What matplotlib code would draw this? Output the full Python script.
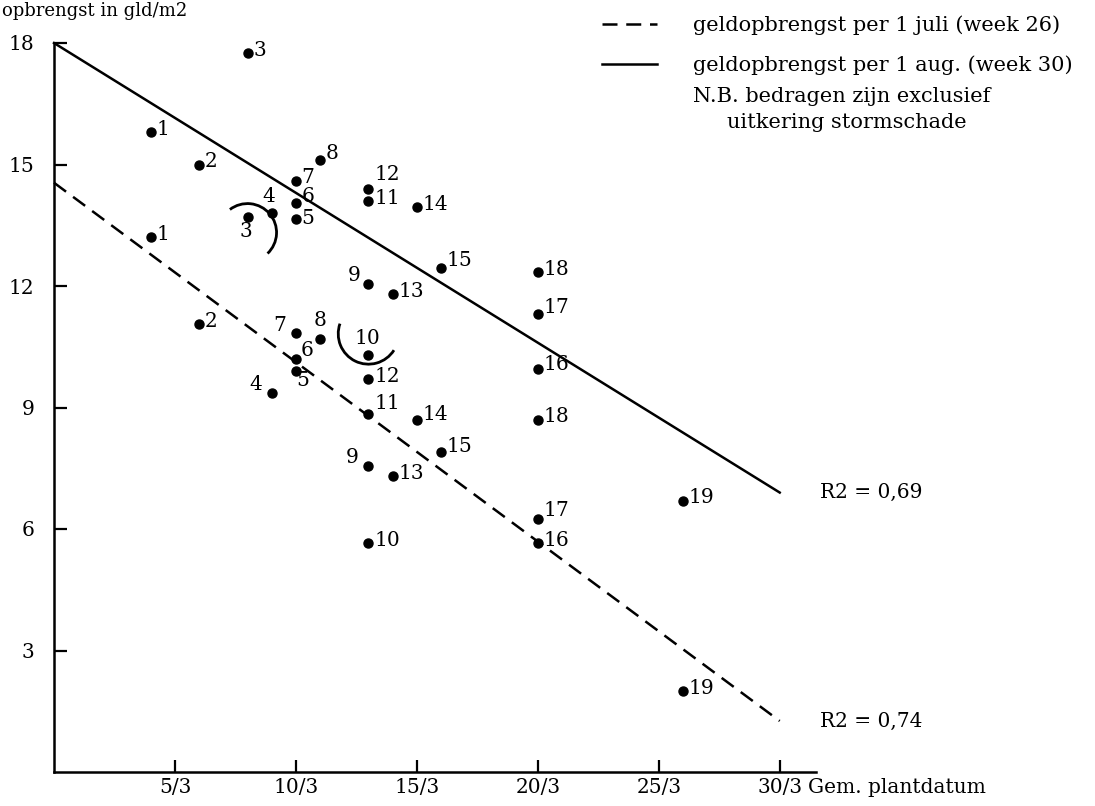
import matplotlib.pyplot as plt
from matplotlib.patches import Arc
import numpy as np

plt.rcParams['font.family'] = 'DejaVu Serif'
plt.rcParams['font.size'] = 14

# gem. plantdatum (dag in maart) per perceel, en geldopbrengst op twee data
field_ids = list(range(1, 20))
plantdate = [4, 6, 8, 9, 10, 10, 10, 11, 13, 13, 13, 13, 14, 15, 16, 20, 20, 20, 26]
yield_aug = [15.8, 15.0, 17.75, 13.8, 13.65, 14.05, 14.6, 15.1, 12.05, 10.3,
             14.1, 14.4, 11.8, 13.95, 12.45, 9.95, 11.3, 12.35, 6.7]
yield_jul = [13.2, 11.05, 13.7, 9.35, 9.9, 10.2, 10.85, 10.7, 7.55, 5.65,
             8.85, 9.7, 7.3, 8.7, 7.9, 5.65, 6.25, 8.7, 2.0]

# regressielijnen: (waarde op dag 0, helling per dag)
fit_aug = (18.0, -0.37)
fit_jul = (14.55, -0.443)
fit_days = [0, 30]
r2_aug = 'R2 = 0,69'
r2_jul = 'R2 = 0,74'

xtick_days = [5, 10, 15, 20, 25, 30]
xtick_labels = ['5/3', '10/3', '15/3', '20/3', '25/3', '30/3']
ytick_vals = [3, 6, 9, 12, 15, 18]

# label offsets in points (dx, dy, ha); default is right of the dot
default_off = (4, 2, 'left')
label_off = {
    ('aug', 4): (-2, 12, 'center'),
    ('aug', 5): (4, 0.5, 'left'),
    ('aug', 6): (4, 5, 'left'),
    ('aug', 8): (4, 5, 'left'),
    ('aug', 9): (-6, 6, 'right'),
    ('aug', 10): (-1, 12, 'center'),
    ('aug', 12): (4, 10, 'left'),
    ('aug', 15): (4, 5, 'left'),
    ('aug', 16): (4, 3, 'left'),
    ('aug', 17): (4, 5, 'left'),
    ('jul', 3): (-1, -10, 'center'),
    ('jul', 4): (-7, 6, 'right'),
    ('jul', 5): (5, -7, 'center'),
    ('jul', 6): (8, 6, 'center'),
    ('jul', 7): (-7, 5, 'right'),
    ('jul', 8): (0, 13, 'center'),
    ('jul', 9): (-7, 6, 'right'),
    ('jul', 11): (4, 7, 'left'),
    ('jul', 14): (4, 4, 'left'),
    ('jul', 15): (4, 4, 'left'),
    ('jul', 17): (4, 6, 'left'),
}

fig = plt.figure(figsize=(10.95, 8.06), dpi=100)
ax = fig.add_axes([54 / 1095, 34 / 806, 762 / 1095, 729 / 806])
ax.set_xlim(0, 31.5)
ax.set_ylim(0, 18)

for s in ['top', 'right']:
    ax.spines[s].set_visible(False)
for s in ['left', 'bottom']:
    ax.spines[s].set_linewidth(1.8)

ax.set_xticks(xtick_days)
ax.set_xticklabels(xtick_labels)
ax.set_yticks(ytick_vals)
ax.tick_params(axis='both', direction='in', length=9, width=1.6, labelsize=14.5)
ax.tick_params(axis='y', pad=14)
ax.tick_params(axis='x', pad=4)

days = np.array(fit_days)
line_jul, = ax.plot(days, fit_jul[0] + fit_jul[1] * days, color='black', lw=1.8,
                    ls=(0, (6, 3.5)), clip_on=False)
line_aug, = ax.plot(days, fit_aug[0] + fit_aug[1] * days, color='black', lw=1.8,
                    clip_on=False)

for name, vals in [('aug', yield_aug), ('jul', yield_jul)]:
    ax.plot(plantdate, vals, 'o', color='black', ms=6.5, clip_on=False)
    for fid, x, y in zip(field_ids, plantdate, vals):
        dx, dy, ha = label_off.get((name, fid), default_off)
        ax.annotate(str(fid), (x, y), xytext=(dx, dy), textcoords='offset points',
                    ha=ha, va='center', fontsize=14.5)

# boogjes om de afwijkende waarnemingen
ax.add_patch(Arc((plantdate[2], yield_jul[2] - 0.38), 2.4, 1.43, theta1=-32, theta2=142,
                 color='black', lw=2))
ax.add_patch(Arc((plantdate[9], yield_aug[9] + 0.52), 2.5, 1.5, theta1=168, theta2=339,
                 color='black', lw=2))

# R2 bij het einde van elke lijn
ax.text(31.65, fit_aug[0] + fit_aug[1] * fit_days[1], r2_aug, ha='left', va='center',
        fontsize=14.5, clip_on=False)
ax.text(31.65, fit_jul[0] + fit_jul[1] * fit_days[1], r2_jul, ha='left', va='center',
        fontsize=14.5, clip_on=False)

ax.annotate('Gem. plantdatum', xy=(1, 0), xycoords='axes fraction', xytext=(-6, -11),
            textcoords='offset points', ha='left', va='center', fontsize=14.5)

fig.text(0.002, 0.998, 'opbrengst in gld/m2', ha='left', va='top', fontsize=13)

leg = fig.legend([line_jul, line_aug],
                 ['geldopbrengst per 1 juli (week 26)', 'geldopbrengst per 1 aug. (week 30)'],
                 loc='upper left', bbox_to_anchor=(0.533, 1.004), frameon=False,
                 handlelength=2.6, handletextpad=1.75, labelspacing=0.97, fontsize=15)
fig.text(693 / 1095, 1 - 96 / 806, 'N.B. bedragen zijn exclusief', ha='left', va='center',
         fontsize=15)
fig.text(727 / 1095, 1 - 122 / 806, 'uitkering stormschade', ha='left', va='center',
         fontsize=15)

fig.savefig('out.png', dpi=100)
